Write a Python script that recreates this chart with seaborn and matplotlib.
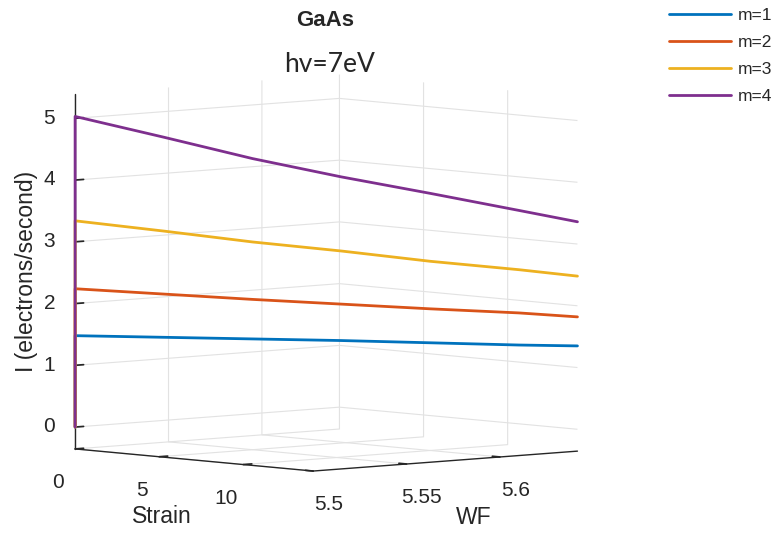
import numpy as np
import pandas as pd
import matplotlib
matplotlib.use('Agg')
import matplotlib.pyplot as plt
import seaborn as sns

# data
strain = [0, 0, 2.5, 5, 7.5, 10, 12.5, 14.15]
wf = [5.5, 5.5, 5.525, 5.55, 5.575, 5.6, 5.625, 5.6415]
i_m1 = [0, 1.48, 1.46, 1.44, 1.42, 1.39, 1.36, 1.35]
i_m2 = [0, 2.24, 2.16, 2.08, 2.01, 1.94, 1.88, 1.82]
i_m3 = [0, 3.34, 3.18, 3.01, 2.87, 2.71, 2.58, 2.48]
i_m4 = [0, 5.03, 4.70, 4.36, 4.07, 3.81, 3.54, 3.36]
labels = ['m=1', 'm=2', 'm=3', 'm=4']
strain_ticks = [0, 5, 10]
wf_ticks = [5.5, 5.55, 5.6]
i_ticks = [0, 1, 2, 3, 4, 5]

rows = []
for lab, vals in zip(labels, [i_m1, i_m2, i_m3, i_m4]):
    for s, w, v in zip(strain, wf, vals):
        rows.append({'m': lab, 'Strain': s, 'WF': w, 'I': v})
df = pd.DataFrame(rows)

sns.set_theme(style='white')
plt.rcParams['font.family'] = ['Liberation Sans', 'DejaVu Sans']
plt.rcParams['grid.color'] = '#e2e2e2'
plt.rcParams['grid.linewidth'] = 0.8
plt.rcParams['axes.labelcolor'] = '#262626'

palette = sns.color_palette(['#0072BD', '#D95319', '#EDB120', '#7E2F8E'])

fig = plt.figure(figsize=(7.78, 5.34), dpi=100)
ax = fig.add_axes([-0.166, -0.086, 1.15, 1.12], projection='3d', proj_type='ortho')
ax.view_init(elev=4.8, azim=-42)
ax.set_box_aspect((1, 1, 1))

for (lab, g), col in zip(df.groupby('m', sort=False), palette):
    ax.plot(g['Strain'], g['WF'], g['I'], color=col, lw=2.0, label=lab)

ax.set_xlim(0, 14.15)
ax.set_ylim(5.5, 5.6415)
ax.set_zlim(-0.354, 5.386)
ax.set_xticks(strain_ticks)
ax.set_xticklabels([str(t) for t in strain_ticks])
ax.set_yticks(wf_ticks)
ax.set_yticklabels(['5.5', '5.55', '5.6'])
ax.set_zticks(i_ticks)
ax.tick_params(labelsize=15, colors='#262626')
ax.tick_params(axis='x', pad=6.5)
ax.tick_params(axis='y', pad=6.5)

for axis in (ax.xaxis, ax.yaxis, ax.zaxis):
    axis.set_pane_color((1, 1, 1, 0))
    axis.pane.set_edgecolor((1, 1, 1, 0))
    axis.line.set_color('#262626')
    axis.line.set_linewidth(1.0)
    axis._axinfo['tick']['inward_factor'] = 0.0
    axis._axinfo['tick']['outward_factor'] = 0.4
    axis._axinfo['grid']['color'] = '#e2e2e2'
    axis._axinfo['grid']['linewidth'] = 0.8

ax.zaxis.set_ticks_position('lower')
ax.zaxis.set_label_position('lower')

for t in ax.zaxis.get_major_ticks():
    t.label1.set_verticalalignment('center')

ax.xaxis._axinfo['label']['va'] = 'top'
ax.yaxis._axinfo['label']['va'] = 'top'
ax.xaxis.set_rotate_label(False)
ax.yaxis.set_rotate_label(False)
ax.zaxis.set_rotate_label(False)
ax.set_xlabel('Strain', fontsize=16.5, labelpad=6)
ax.set_ylabel('WF', fontsize=16.5, labelpad=6)
ax.set_zlabel('I (electrons/second)', fontsize=16.5, rotation=90, labelpad=0.5)

fig.text(0.418, 0.962, 'GaAs', ha='center', va='center', fontsize=16, fontweight='bold')
fig.text(0.424, 0.88, 'hv=7eV', ha='center', va='center', fontsize=19,
         family=['Lato', 'DejaVu Sans'])

handles, labs = ax.get_legend_handles_labels()
fig.legend(handles, labs, loc='upper right', bbox_to_anchor=(1.0, 0.995), frameon=False,
           fontsize=12.5, handlelength=3.6, labelspacing=0.68, handletextpad=0.4,
           borderaxespad=0.1, borderpad=0.2)

fig.savefig('out.png', dpi=100)
